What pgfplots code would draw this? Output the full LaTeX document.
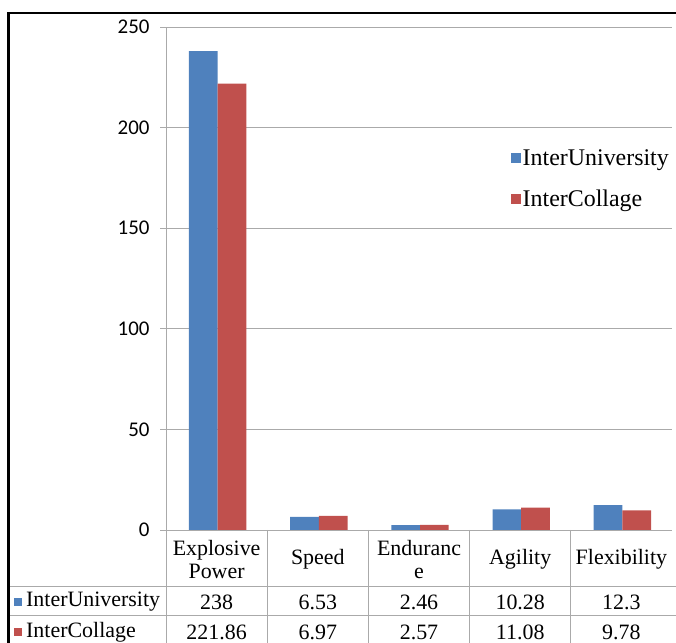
\documentclass[border=0pt]{standalone}
\usepackage{fontspec}
\setmainfont{Liberation Serif}
\newfontfamily\calibri{Carlito}
\newfontfamily\tnr{Liberation Serif}
\usepackage{pgfplots}
\pgfplotsset{compat=1.18}
\definecolor{xlblue}{RGB}{79,129,189}
\definecolor{xlred}{RGB}{192,80,77}
\definecolor{xlgrid}{RGB}{170,170,170}

\begin{document}
\begin{tikzpicture}[x=1bp,y=1bp]
\useasboundingbox (0,0) rectangle (676,643);
\begin{axis}[
    at={(166bp,113bp)}, anchor=south west,
    scale only axis, width=506bp, height=503bp,
    xmin=0, xmax=5, ymin=0, ymax=250,
    axis lines*=left,
    axis line style={xlgrid, line width=0.9bp},
    xtick=\empty,
    ytick={0,50,...,250},
    ymajorgrids,
    grid style={xlgrid, line width=0.9bp},
    tick style={xlgrid, line width=0.9bp},
    major tick length=6bp, tick align=outside,
    /pgf/number format/assume math mode=true,
    yticklabel style={font=\calibri\fontsize{21}{24}\selectfont, xshift=-7bp},
    ybar=0pt, bar width=28.7bp,
    clip=false,
    legend style={at={(0.675,0.765)}, anchor=north west, draw=none, fill=none,
        font=\tnr\fontsize{24}{28}\selectfont, row sep=19bp},
    legend cell align=left,
]
\addplot[fill=xlblue, draw=none,
    legend image code/.code={\fill[xlblue] (0bp,-5bp) rectangle (10bp,5bp);}]
    coordinates {(0.51,238) (1.51,6.53) (2.51,2.46) (3.51,10.28) (4.51,12.3)};
\addplot[fill=xlred, draw=none,
    legend image code/.code={\fill[xlred] (0bp,-5bp) rectangle (10bp,5bp);}]
    coordinates {(0.51,221.86) (1.51,6.97) (2.51,2.57) (3.51,11.08) (4.51,9.78)};
\legend{InterUniversity, InterCollage}
\end{axis}

% data table under the chart
\begin{scope}[xlgrid, line width=0.9bp]
\draw (8,57) -- (676,57);
\draw (8,28) -- (676,28);
\foreach \x in {166,267.2,368.4,469.6,570.8}
    \draw (\x,113) -- (\x,0);
\end{scope}
\begin{scope}[every node/.style={font=\tnr\fontsize{22}{23}\selectfont, inner sep=0pt, align=center}]
\node at (216.6,83.5) {Explosive\\Power};
\node at (317.8,83.5) {Speed};
\node at (419,83.5) {Enduranc\\e};
\node at (520.2,83.5) {Agility};
\node at (621.4,83.5) {Flexibility};
\fill[xlblue] (14,37) rectangle (22,45);
\node[anchor=west] at (26,41) {InterUniversity};
\fill[xlred] (14,7) rectangle (22,15);
\node[anchor=west] at (26,11) {InterCollage};
\node at (216.6,41) {238};
\node at (317.8,41) {6.53};
\node at (419,41) {2.46};
\node at (520.2,41) {10.28};
\node at (621.4,41) {12.3};
\node at (216.6,11) {221.86};
\node at (317.8,11) {6.97};
\node at (419,11) {2.57};
\node at (520.2,11) {11.08};
\node at (621.4,11) {9.78};
\end{scope}

% outer chart border
\draw[black, line width=2.5bp] (8.5,0) -- (8.5,630) -- (676,630);
\end{tikzpicture}
\end{document}
